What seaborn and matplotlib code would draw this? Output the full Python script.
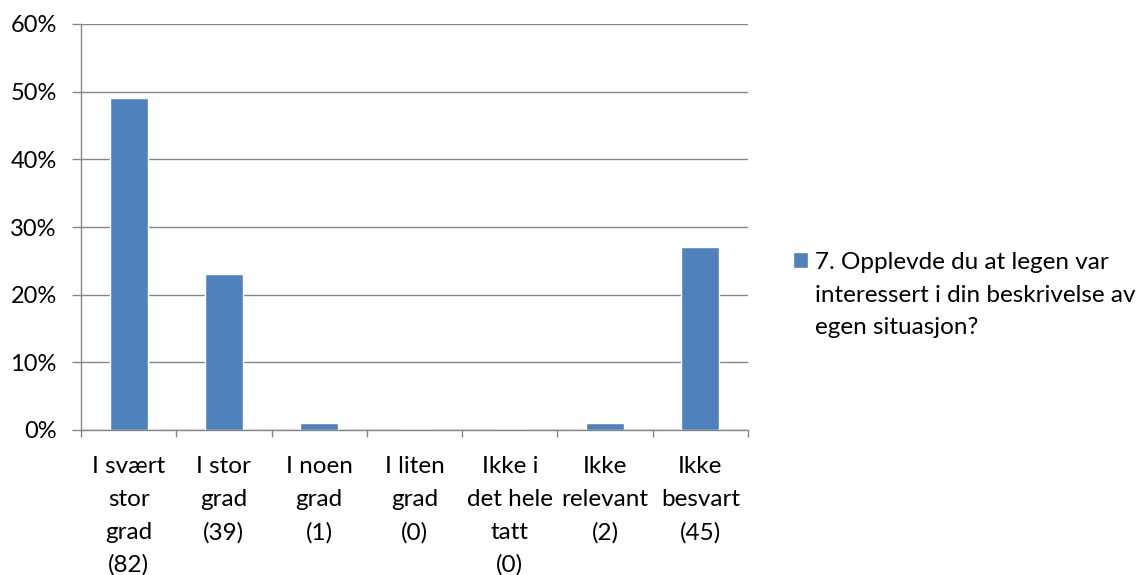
import matplotlib
matplotlib.use("Agg")
import matplotlib.pyplot as plt
import seaborn as sns
import pandas as pd
from matplotlib.ticker import FixedLocator, FuncFormatter

categories = ["I svært\nstor\ngrad\n(82)", "I stor\ngrad\n(39)", "I noen\ngrad\n(1)",
              "I liten\ngrad\n(0)", "Ikke i\ndet hele\ntatt\n(0)", "Ikke\nrelevant\n(2)",
              "Ikke\nbesvart\n(45)"]
values = [49, 23, 1, 0, 0, 1, 27]
series_name = "7. Opplevde du at legen var\ninteressert i din beskrivelse av\negen situasjon?"
y_ticks = [0, 10, 20, 30, 40, 50, 60]

sns.set_theme(style="white")
plt.rcParams['font.family'] = ['Lato', 'DejaVu Sans']

FS = 17.5
LS = 1.68
W, H = 1148, 575
fig = plt.figure(figsize=(W / 100, H / 100), dpi=100)
ax = fig.add_axes([81 / W, 1 - 430 / H, 667 / W, 406 / H])

df = pd.DataFrame({"cat": categories, "val": values, "series": series_name})
sns.barplot(data=df, x="cat", y="val", hue="series", palette=["#4F81BD"],
            width=0.4, dodge=False, saturation=1, ax=ax, legend=True)

grid_c = "#868686"
ax.set_xlim(-0.5, len(categories) - 0.5)
ax.set_ylim(0, 60)
ax.set_yticks(y_ticks)
ax.yaxis.set_major_formatter(FuncFormatter(lambda v, p: f"{int(v)}%"))
ax.yaxis.grid(True, color=grid_c, linewidth=1)
ax.set_axisbelow(True)
ax.set_xlabel("")
ax.set_ylabel("")

for s in ["top", "right"]:
    ax.spines[s].set_visible(False)
for s in ["left", "bottom"]:
    ax.spines[s].set_color(grid_c)
    ax.spines[s].set_linewidth(1)

ax.tick_params(axis="y", which="major", length=6.5, width=1, color=grid_c, pad=11,
               labelsize=17, labelcolor="black", left=True)
ax.set_xticks(range(len(categories)))
ax.set_xticklabels(categories, linespacing=LS, va="top")
ax.tick_params(axis="x", which="major", length=0, pad=19, labelsize=FS, labelcolor="black")
ax.xaxis.set_minor_locator(FixedLocator([i - 0.5 for i in range(len(categories) + 1)]))
ax.tick_params(axis="x", which="minor", length=5, width=1, color=grid_c, bottom=True)

leg = ax.legend(loc="center left", bbox_to_anchor=(771 / W, 1 - 295 / H), bbox_transform=fig.transFigure,
                frameon=False, handlelength=0.62, handleheight=0.62, handletextpad=0.3,
                fontsize=FS, labelcolor="black")
for t in leg.get_texts():
    t.set_linespacing(LS)
try:
    for col in leg._legend_handle_box.get_children():
        for row in col.get_children():
            row.align = "top"
except Exception:
    pass

fig.savefig("out.png", dpi=100, facecolor="white")
